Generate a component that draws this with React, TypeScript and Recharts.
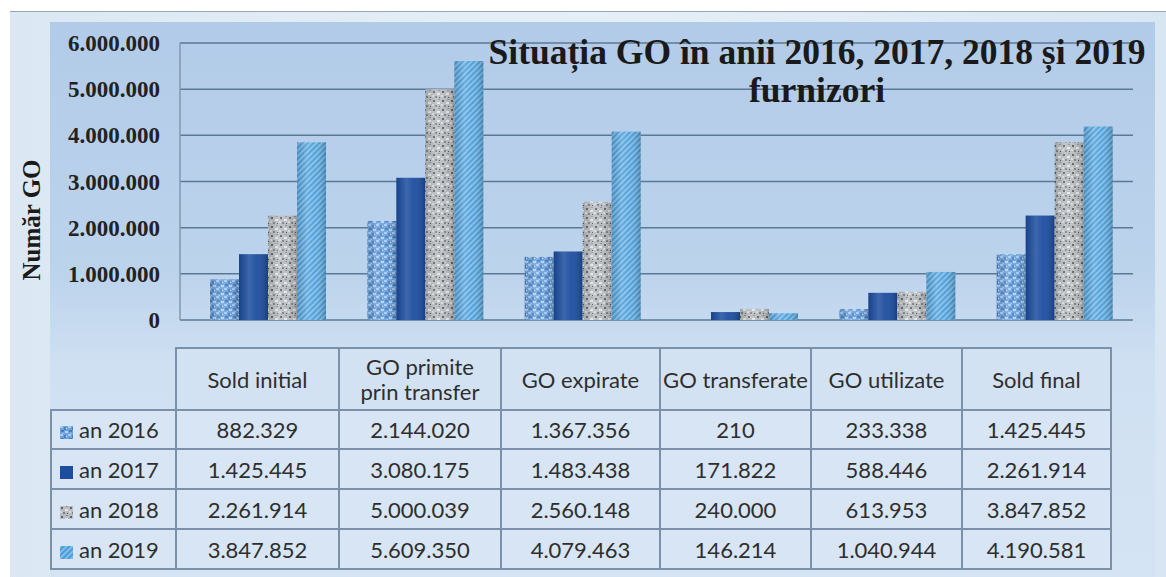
import { BarChart, Bar, XAxis, YAxis, CartesianGrid } from "recharts";

const categories = [
  "Sold initial",
  "GO primite\nprin transfer",
  "GO expirate",
  "GO transferate",
  "GO utilizate",
  "Sold final",
];
const seriesNames = ["an 2016", "an 2017", "an 2018", "an 2019"];
const an2016 = [882329, 2144020, 1367356, 210, 233338, 1425445];
const an2017 = [1425445, 3080175, 1483438, 171822, 588446, 2261914];
const an2018 = [2261914, 5000039, 2560148, 240000, 613953, 3847852];
const an2019 = [3847852, 5609350, 4079463, 146214, 1040944, 4190581];
const yTicks = [0, 1000000, 2000000, 3000000, 4000000, 5000000, 6000000];

const seriesValues = [an2016, an2017, an2018, an2019];
const seriesFills = ["url(#p2016)", "#1c4d9f", "url(#p2018)", "url(#p2019)"];

const data = categories.map((c, i) => ({
  name: c,
  an2016: an2016[i],
  an2017: an2017[i],
  an2018: an2018[i],
  an2019: an2019[i],
}));

const fmt = (n: number) =>
  String(n).replace(/\B(?=(\d{3})+(?!\d))/g, ".");

const colWidths = [125, 163, 162, 159, 151, 151, 149];
const border = "2px solid #7b91a9";

// bar with a bit of cylinder shading on top of the pattern
function CylBar(props: any) {
  const { x, y, width, height, fill } = props;
  if (!height || height <= 0) return null;
  return (
    <g>
      <rect x={x} y={y} width={width} height={height} fill={fill} />
      <rect x={x} y={y} width={width} height={height} fill="url(#shade)" />
    </g>
  );
}

export default function App() {
  return (
    <div
      style={{
        position: "absolute",
        left: 0,
        top: 0,
        width: 1166,
        height: 577,
        background: "#ffffff",
        overflow: "hidden",
      }}
    >
      <div
        style={{
          position: "absolute",
          left: 10,
          top: 11,
          right: 0,
          bottom: 0,
          background: "linear-gradient(90deg, #dbe8f3, #e6eff7 50%, #d8e6f3)",
          borderTop: "1px solid #98a7b5",
        }}
      />
      <div
        style={{
          position: "absolute",
          left: 50,
          top: 22,
          width: 1105,
          height: 555,
          background:
            "linear-gradient(180deg, #b2cbe8 0%, #bcd3ec 45%, #cfe0f2 62%, #d5e4f4 100%)",
        }}
      />

      <div style={{ position: "absolute", left: 0, top: 0 }}>
        <BarChart
          width={1166}
          height={340}
          data={data}
          margin={{ top: 43, right: 33, bottom: 20, left: 0 }}
          barCategoryGap={21}
          barGap={0}
        >
          <defs>
            <pattern id="p2016" width="8" height="8" patternUnits="userSpaceOnUse">
              <rect width="8" height="8" fill="#6ea2dc" />
              <rect x="0" y="0" width="3" height="2" fill="#a9cbee" />
              <rect x="4" y="1" width="2" height="3" fill="#4a80c6" />
              <rect x="1" y="4" width="3" height="2" fill="#477cc2" />
              <rect x="5" y="5" width="3" height="2" fill="#b4d3f1" />
              <rect x="6" y="2" width="1" height="1" fill="#e8f2fb" />
              <rect x="2" y="7" width="2" height="1" fill="#8dbbe8" />
            </pattern>
            <pattern id="p2018" width="9" height="9" patternUnits="userSpaceOnUse">
              <rect width="9" height="9" fill="#b9bcc0" />
              <rect x="1" y="1" width="2" height="2" fill="#5f6469" />
              <rect x="5" y="3" width="3" height="2" fill="#e3e5e8" />
              <rect x="3" y="6" width="2" height="2" fill="#7c8187" />
              <rect x="7" y="7" width="1" height="1" fill="#4c5156" />
              <rect x="0" y="5" width="2" height="2" fill="#d8dadd" />
              <rect x="6" y="0" width="2" height="1" fill="#8f949a" />
            </pattern>
            <pattern
              id="p2019"
              width="4"
              height="4"
              patternUnits="userSpaceOnUse"
              patternTransform="rotate(-45)"
            >
              <rect width="4" height="4" fill="#4b9dd8" />
              <rect width="4" height="1.6" fill="#8ec6ee" />
            </pattern>
            <linearGradient id="shade" x1="0" y1="0" x2="1" y2="0">
              <stop offset="0%" stopColor="#000" stopOpacity={0.12} />
              <stop offset="35%" stopColor="#fff" stopOpacity={0.15} />
              <stop offset="60%" stopColor="#fff" stopOpacity={0.05} />
              <stop offset="100%" stopColor="#000" stopOpacity={0.2} />
            </linearGradient>
          </defs>
          <CartesianGrid
            vertical={false}
            stroke="#5b7894"
            strokeWidth={1.5}
          />
          <XAxis dataKey="name" hide padding={{ left: 9, right: 0 }} />
          <YAxis
            width={180}
            domain={[0, 6000000]}
            ticks={yTicks}
            interval={0}
            tickFormatter={fmt}
            tickLine={false}
            tickSize={0}
            tickMargin={20}
            axisLine={{ stroke: "#8298ad", strokeWidth: 1.5 }}
            tick={{
              fontFamily: "Liberation Serif",
              fontWeight: "bold",
              fontSize: 23,
              fill: "#222222",
            }}
          />
          {seriesNames.map((s, i) => (
            <Bar
              key={s}
              dataKey={s.replace(" ", "")}
              name={s}
              fill={seriesFills[i]}
              shape={<CylBar />}
              isAnimationActive={false}
            />
          ))}
        </BarChart>
      </div>

      <div
        style={{
          position: "absolute",
          left: 417,
          top: 33,
          width: 800,
          textAlign: "center",
          fontFamily: "Liberation Serif",
          fontWeight: "bold",
          fontSize: 35.5,
          lineHeight: "38px",
          color: "#1a1a1a",
        }}
      >
        Situația GO în anii 2016, 2017, 2018 și 2019
        <br />
        furnizori
      </div>

      <div
        style={{
          position: "absolute",
          left: 32,
          top: 220,
          transform: "translate(-50%, -50%) rotate(-90deg)",
          whiteSpace: "nowrap",
          fontFamily: "Liberation Serif",
          fontWeight: "bold",
          fontSize: 25,
          color: "#1a1a1a",
        }}
      >
        Număr GO
      </div>

      <table
        style={{
          position: "absolute",
          left: 50,
          top: 347,
          borderCollapse: "collapse",
          tableLayout: "fixed",
          fontFamily: "Lato",
          fontSize: 22,
          color: "#2e2e2e",
        }}
      >
        <colgroup>
          {colWidths.map((w, i) => (
            <col key={i} style={{ width: w }} />
          ))}
        </colgroup>
        <tbody>
          <tr style={{ height: 62 }}>
            <td style={{ border: "none", borderRight: border, borderBottom: border }} />
            {categories.map((c) => (
              <td
                key={c}
                style={{
                  border,
                  background: "#d3e2f3",
                  textAlign: "center",
                  whiteSpace: "pre-line",
                  lineHeight: "25px",
                  padding: 0,
                }}
              >
                {c}
              </td>
            ))}
          </tr>
          {seriesNames.map((s, si) => (
            <tr key={s} style={{ height: si === 0 ? 39 : 40 }}>
              <td
                style={{
                  border,
                  background: "#d8e5f4",
                  padding: "0 0 0 8px",
                  whiteSpace: "nowrap",
                }}
              >
                <svg width={13} height={13} style={{ marginRight: 6, verticalAlign: "-1px" }}>
                  <rect width={13} height={13} fill={seriesFills[si]} />
                </svg>
                {s}
              </td>
              {seriesValues[si].map((v, ci) => (
                <td
                  key={ci}
                  style={{
                    border,
                    background: "#d8e5f4",
                    textAlign: "center",
                    padding: 0,
                  }}
                >
                  {fmt(v)}
                </td>
              ))}
            </tr>
          ))}
        </tbody>
      </table>
    </div>
  );
}
